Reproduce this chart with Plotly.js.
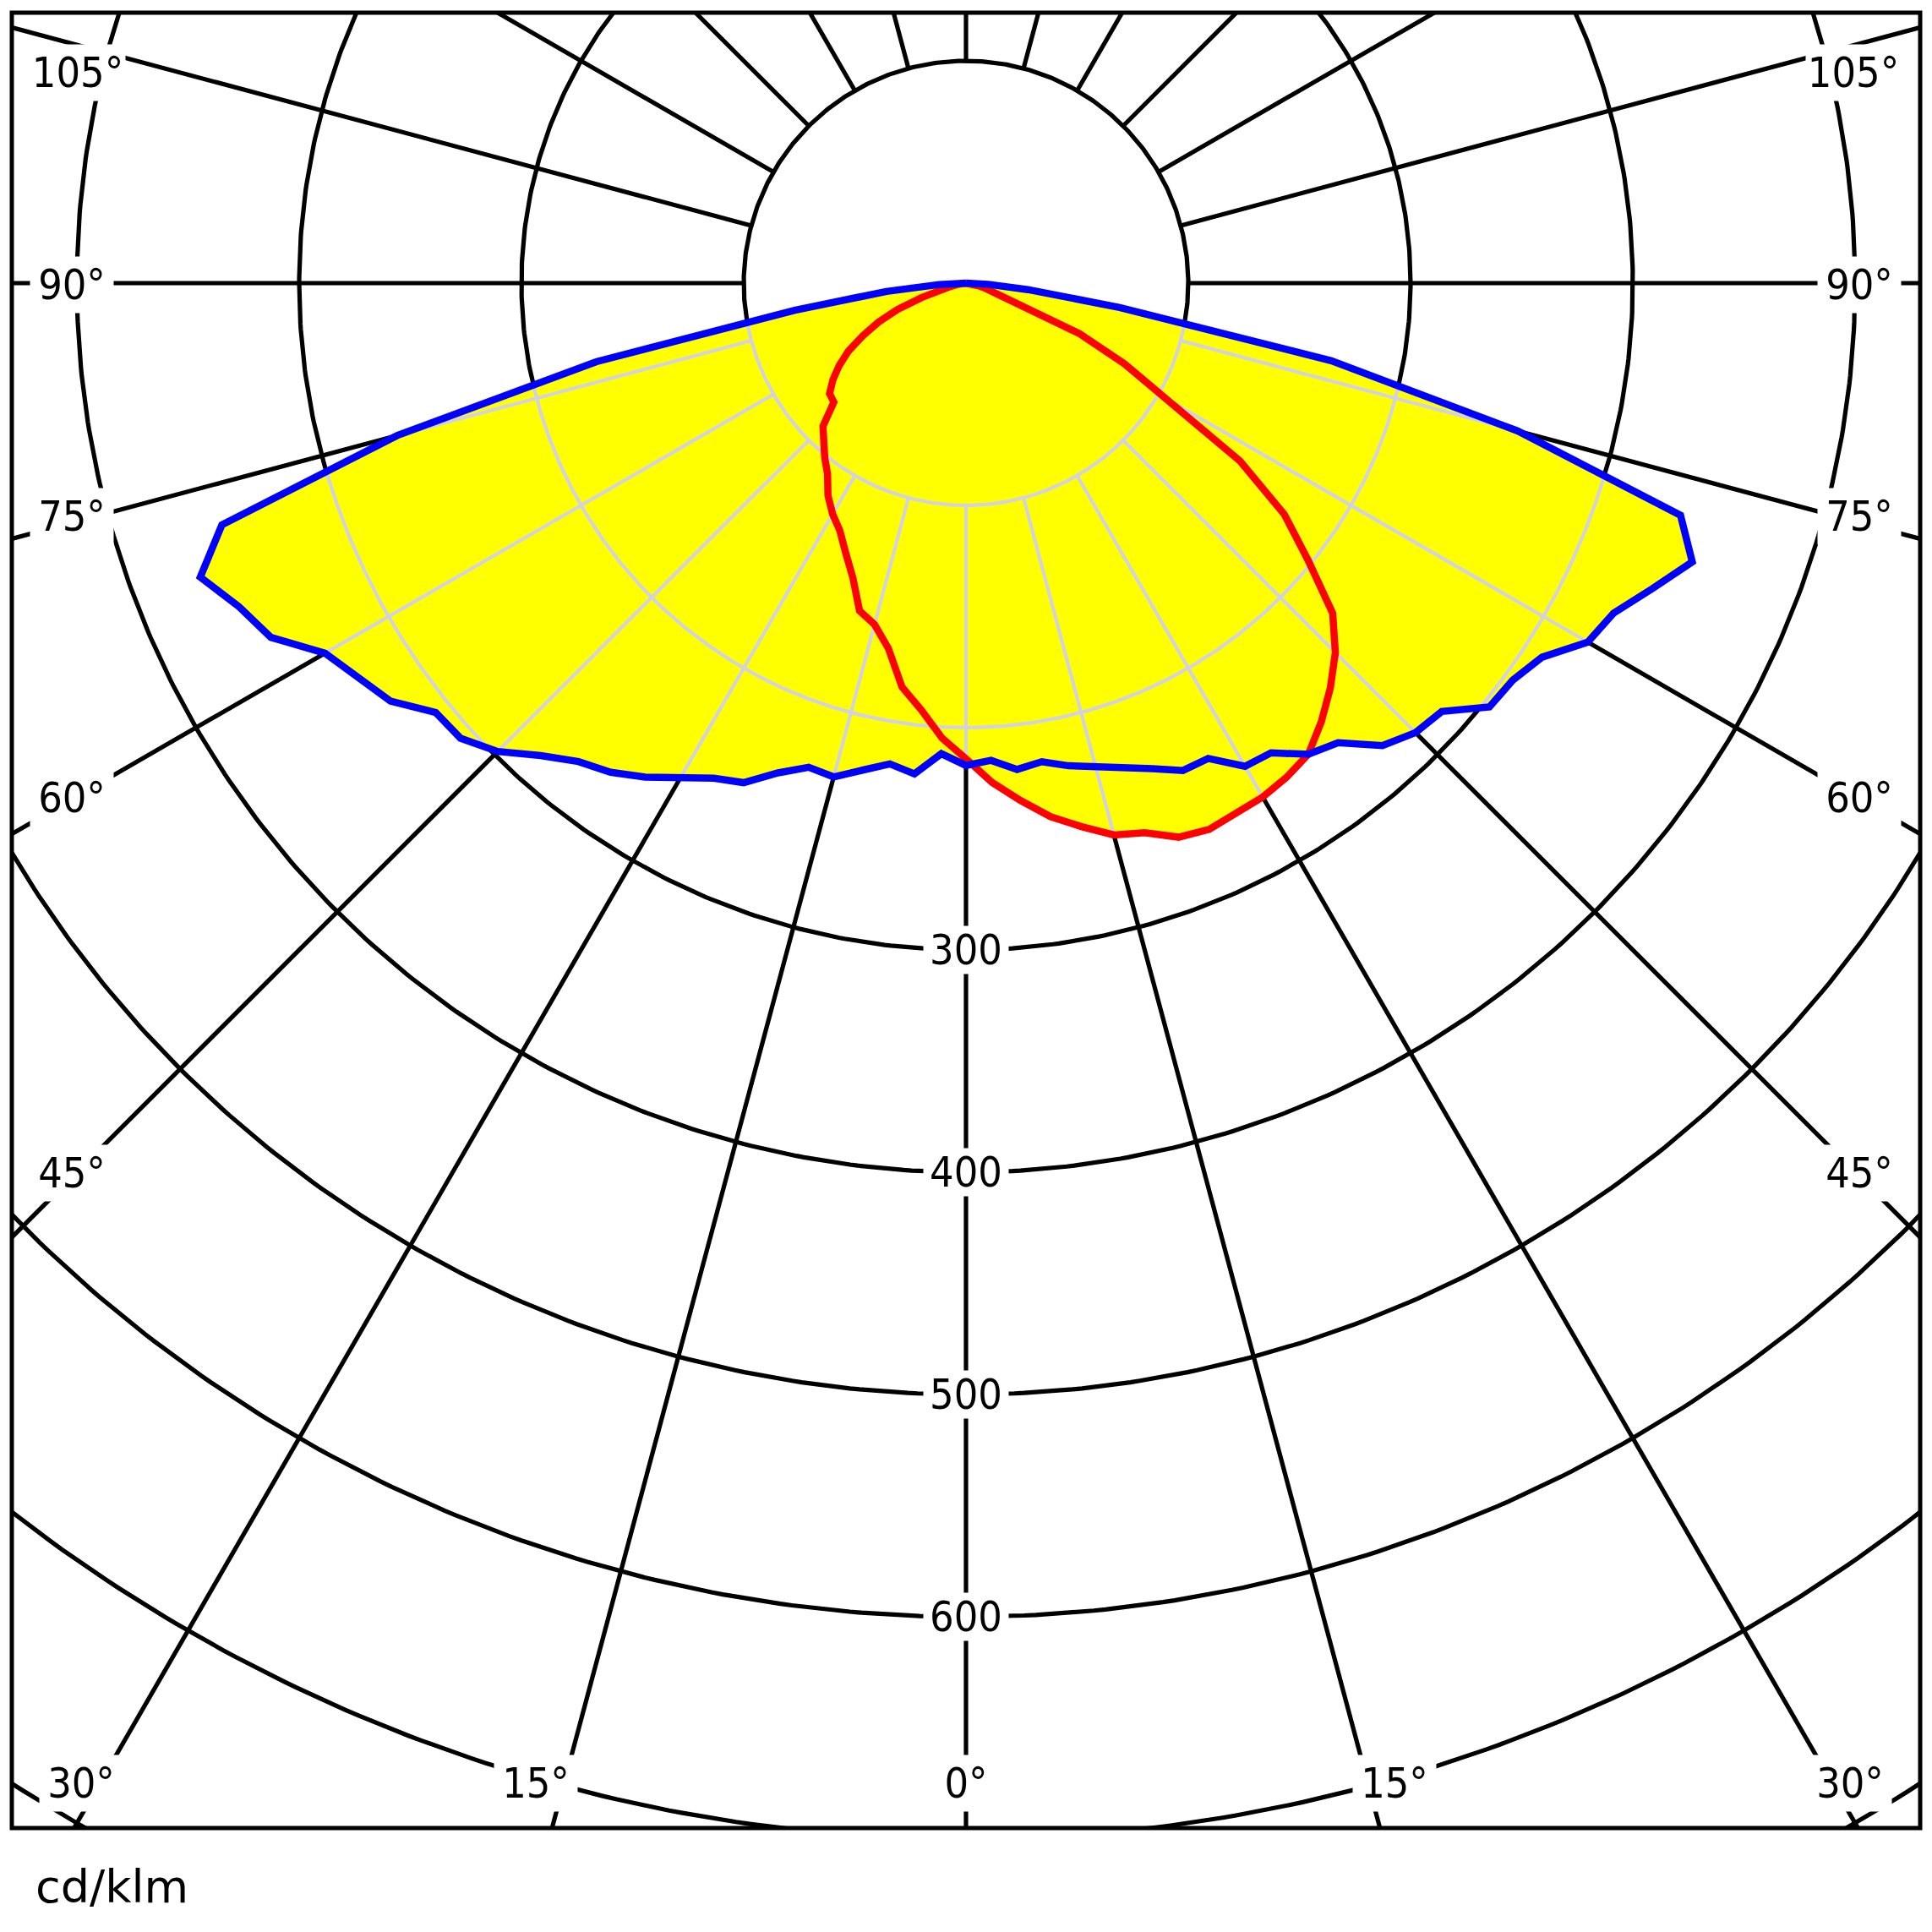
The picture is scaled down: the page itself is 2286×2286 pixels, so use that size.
<!DOCTYPE html>
<html>
<head>
<meta charset="utf-8">
<script src="https://cdn.plot.ly/plotly-3.0.1.min.js"></script>
<style>html,body{margin:0;padding:0;background:#fff;}#chart{width:2286px;height:2286px;}</style>
</head>
<body>
<div id="chart"></div>
<script>
// ---------------- DATA ----------------
// gamma angles (deg, 0 = straight down, negative = left half)
const angles = [-90,-87,-84,-81,-78,-75,-72,-69,-66,-63,-60,-57,-54,-51,-48,-45,-42,-39,-36,-33,-30,-27,-24,-21,-18,-15,-12,-9,-6,-3,
  0,3,6,9,12,15,18,21,24,27,30,33,36,39,42,45,48,51,54,57,60,63,66,69,72,75,78,81,84,87,90];
// C90-C270 plane (blue), cd/klm
const blueCurve = [0,12,36,78,170,265,352,369,358,351,333,326,320,307,306,298,286,277,272,265,257,250,246,236,229,230,224,219,222,212,
  217,215,220,218,222,225,229,234,240,240,251,252,262,266,280,286,288,303,304,309,323,327,338,350,338,257,168,70,28,10,0];
// C0-C180 plane (red), cd/klm
const redCurve = [0,1,2,4,7,12,21,33,43,52,61,68,74,79,80,91,96,101,106,114,120,125,133,142,155,159,168,184,193,205,
  214,225,234,243,250,257,260,267,269,268,267,265,262,254,245,235,222,198,177,147,106,80,56,25,14,9,6,4,2,1,0];
// grid
const gridRadii = [100,200,300,400,500,600,700,800];
const gridAngles = [0,15,30,45,60,75,90,105,120,135,150,165,180,195,210,225,240,255,270,285,300,315,330,345];
const valueLabels = [300,400,500,600];
const sideAngleLabels = ['105°','90°','75°','60°','45°'];
const bottomAngleLabels = ['30°','15°','0°','15°','30°'];
const unitLabel = 'cd/klm';

// ---------------- HELPERS ----------------
const D = Math.PI/180;
const px = (r, th) => r*Math.sin(th*D);
const py = (r, th) => -r*Math.cos(th*D);

function rayR(rs, th){
  if (th < angles[0] || th > angles[angles.length-1]) return 0;
  for (let i=0;i<angles.length-1;i++){
    const a1=angles[i], a2=angles[i+1];
    if (th>=a1 && th<=a2){
      const r1=rs[i], r2=rs[i+1];
      if (th===a1) return r1;
      if (th===a2) return r2;
      const num = r1*r2*Math.sin((a2-a1)*D);
      const den = r1*Math.sin((th-a1)*D) + r2*Math.sin((a2-th)*D);
      return den===0 ? 0 : num/den;
    }
  }
  return 0;
}
const unionR = th => Math.max(rayR(blueCurve, th), rayR(redCurve, th));

// black grid: circles + radial lines (from r=100 outward)
const bx=[], by=[];
gridRadii.forEach(rc=>{
  for(let i=0;i<=720;i++){ const t=i/2; bx.push(px(rc,t)); by.push(py(rc,t)); }
  bx.push(null); by.push(null);
});
gridAngles.forEach(a=>{
  bx.push(px(gridRadii[0],a), px(2000,a), null);
  by.push(py(gridRadii[0],a), py(2000,a), null);
});

// light grid inside the lit area
const gx=[], gy=[];
gridRadii.forEach(rc=>{
  let inside=false;
  for(let i=-900;i<=900;i++){
    const t=i/10;
    if (unionR(t) >= rc){ gx.push(px(rc,t)); gy.push(py(rc,t)); inside=true; }
    else if (inside){ gx.push(null); gy.push(null); inside=false; }
  }
  if (inside){ gx.push(null); gy.push(null); }
});
gridAngles.forEach(a=>{
  const s = a>180 ? a-360 : a;
  if (Math.abs(s) < 90){
    const R = unionR(s);
    if (R > gridRadii[0]){
      gx.push(px(gridRadii[0],s), px(R,s), null);
      gy.push(py(gridRadii[0],s), py(R,s), null);
    }
  }
});

const curveXY = rs => ({x: rs.map((r,i)=>px(r,angles[i])), y: rs.map((r,i)=>py(r,angles[i]))});
const B = curveXY(blueCurve), Rd = curveXY(redCurve);

const traces = [
  {x:bx, y:by, mode:'lines', line:{color:'#000', width:5.2}, connectgaps:false, hoverinfo:'skip'},
  {x:B.x, y:B.y, mode:'lines', fill:'toself', fillcolor:'#ffff00', line:{color:'rgba(0,0,0,0)', width:0}, hoverinfo:'skip'},
  {x:Rd.x, y:Rd.y, mode:'lines', fill:'toself', fillcolor:'#ffff00', line:{color:'rgba(0,0,0,0)', width:0}, hoverinfo:'skip'},
  {x:gx, y:gy, mode:'lines', line:{color:'rgb(210,210,226)', width:4.2}, connectgaps:false, hoverinfo:'skip'},
  {x:Rd.x, y:Rd.y, mode:'lines', line:{color:'#ff0000', width:8.5}, hoverinfo:'skip'},
  {x:B.x, y:B.y, mode:'lines', line:{color:'#0000ff', width:8.5}, hoverinfo:'skip'}
];

// ---------------- LAYOUT ----------------
const W=2286, H=2286, L=14, R=14, T=15, Bm=123;
const K = 2.63;            // px per cd/klm
const CX = 1143, CY = 335; // pole position in px
const pw = W-L-R, ph = H-T-Bm;
const xr = [(L-CX)/K, (L+pw-CX)/K];
const yr = [-(T+ph-CY)/K, (CY-T)/K];
const xp = v => (v-L)/pw, yp = v => 1-(v-T)/ph;

const numFont = {family:'"DejaVu Sans Condensed", "Liberation Sans", sans-serif', size:50, color:'#000'};
const ann = [];
const sideY = [86,337,611,944,1388];
sideAngleLabels.forEach((t,i)=>{
  const w = t.length>3 ? 112 : 98;
  ann.push({text:t, xref:'paper', yref:'paper', x:xp(35), y:yp(sideY[i]), xanchor:'left', yanchor:'middle',
    showarrow:false, bgcolor:'#fff', borderpad:0, width:w, height:66, font:numFont});
  ann.push({text:t, xref:'paper', yref:'paper', x:xp(2250), y:yp(sideY[i]), xanchor:'right', yanchor:'middle',
    showarrow:false, bgcolor:'#fff', borderpad:0, width:w, height:66, font:numFont});
});
const botX = [95.5,633.5,1143,1650,2189];
bottomAngleLabels.forEach((t,i)=>{
  ann.push({text:t, xref:'paper', yref:'paper', x:xp(botX[i]), y:yp(2110), xanchor:'center', yanchor:'middle',
    showarrow:false, bgcolor:'#fff', borderpad:0, width: t.length>2?98:80, height:66, font:numFont});
});
valueLabels.forEach(v=>{
  ann.push({text:String(v), xref:'x', yref:'y', x:0, y:-v, xanchor:'center', yanchor:'middle',
    showarrow:false, bgcolor:'#fff', borderpad:0, width:100, height:56, font:numFont});
});
ann.push({text:unitLabel, xref:'paper', yref:'paper', x:xp(40), y:yp(2232), xanchor:'left', yanchor:'middle',
  showarrow:false, font:{family:'"DejaVu Sans", Verdana, sans-serif', size:54, color:'#000'}});

const layout = {
  width:W, height:H,
  margin:{l:L, r:R, t:T, b:Bm, pad:0},
  paper_bgcolor:'#fff', plot_bgcolor:'#fff',
  showlegend:false, hovermode:false,
  xaxis:{range:xr, visible:false, fixedrange:true},
  yaxis:{range:yr, visible:false, fixedrange:true},
  annotations:ann,
  shapes:[{type:'rect', xref:'paper', yref:'paper', x0:0, x1:1, y0:0, y1:1, line:{color:'#000', width:5}, layer:'above'}]
};

Plotly.newPlot('chart', traces, layout, {staticPlot:true, displayModeBar:false});
</script>
</body>
</html>
